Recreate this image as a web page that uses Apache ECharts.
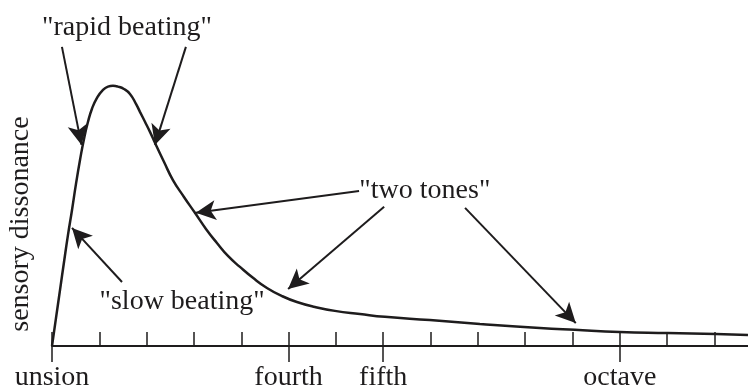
<!DOCTYPE html>
<html>
<head>
<meta charset="utf-8">
<script src="https://cdn.jsdelivr.net/npm/echarts@6/dist/echarts.min.js"></script>
<style>
  html, body { margin: 0; padding: 0; background: #fff; }
  #main { width: 748px; height: 392px; }
</style>
</head>
<body>
<div id="main"></div>
<script>
// interval in semitones above the lower tone
var semitones = [0, 0.085, 0.169, 0.254, 0.338, 0.423, 0.507, 0.592, 0.676, 0.761, 0.845, 0.951,
  1.078, 1.183, 1.289, 1.395, 1.521, 1.648, 1.775, 1.859, 1.965, 2.071, 2.176, 2.366, 2.556, 2.789,
  3.021, 3.254, 3.486, 3.719, 3.972, 4.247, 4.543, 4.860, 5.176, 5.557, 5.979, 6.508, 7.036,
  7.986, 9.043, 10.31, 11.05, 12.0, 13.01, 14.03, 14.71];
// sensory dissonance (peak = 1)
var dissonance = [0, 0.108, 0.215, 0.323, 0.427, 0.523, 0.623, 0.715, 0.796, 0.862, 0.912, 0.954,
  0.985, 0.997, 1.0, 0.997, 0.988, 0.969, 0.931, 0.9, 0.862, 0.823, 0.781, 0.708, 0.638, 0.573,
  0.512, 0.45, 0.396, 0.346, 0.304, 0.262, 0.223, 0.192, 0.169, 0.150, 0.135, 0.123, 0.112,
  0.1, 0.085, 0.069, 0.062, 0.054, 0.05, 0.046, 0.042];

var minorTicks = [0, 1, 2, 3, 4, 5, 6, 7, 8, 9, 10, 11, 12, 13, 14];
var namedTicks = [0, 5, 7, 12];
var tickLabels = ['unsion', 'fourth', 'fifth', 'octave'];

// annotation texts and arrows (data coordinates: [semitones, dissonance])
var notes = [
  { text: '"rapid beating"', at: [1.585, 1.222] },
  { text: '"slow beating"', at: [2.75, 0.17] },
  { text: '"two tones"', at: [7.88, 0.598] }
];
var arrows = [
  [[0.21, 1.15], [0.623, 0.773]],
  [[2.83, 1.15], [2.176, 0.773]],
  [[1.48, 0.246], [0.423, 0.454]],
  [[6.49, 0.596], [3.04, 0.512]],
  [[7.02, 0.535], [4.99, 0.219]],
  [[8.73, 0.531], [11.07, 0.088]]
];

var ink = '#1e1c1d';
var serif = '"Liberation Serif", "DejaVu Serif", serif';

var curve = [];
for (var i = 0; i < semitones.length; i++) {
  curve.push([semitones[i], dissonance[i]]);
}

var myChart = echarts.init(document.getElementById('main'));
var option = {
  animation: false,
  grid: { left: 52, right: 0, top: 0, bottom: 46 },
  xAxis: [
    {
      type: 'value', min: 0, max: 14.71, interval: 1,
      axisLine: { show: true, lineStyle: { color: ink, width: 2 } },
      axisTick: { show: true, inside: true, length: 14, customValues: minorTicks,
        lineStyle: { color: ink, width: 1.5 } },
      axisLabel: { show: false },
      splitLine: { show: false }
    },
    {
      type: 'value', min: 0, max: 14.71, position: 'bottom', offset: 0,
      axisLine: { show: false },
      axisTick: { show: true, inside: false, length: 16, customValues: namedTicks,
        lineStyle: { color: ink, width: 1.5 } },
      axisLabel: {
        show: true, customValues: namedTicks, margin: 18,
        color: ink, fontSize: 28, fontFamily: serif,
        formatter: function (v) {
          var k = namedTicks.indexOf(Math.round(v));
          return k >= 0 ? tickLabels[k] : '';
        }
      },
      splitLine: { show: false }
    }
  ],
  yAxis: { type: 'value', min: 0, max: 1.33, show: false },
  graphic: [
    {
      type: 'text', x: 21, y: 224, rotation: Math.PI / 2,
      style: { text: 'sensory dissonance', fill: ink, font: '28px ' + serif,
        align: 'center', verticalAlign: 'middle' }
    }
  ],
  series: [
    {
      type: 'line',
      xAxisIndex: 0,
      data: curve,
      smooth: 0.5,
      showSymbol: false,
      silent: true,
      lineStyle: { color: ink, width: 2.5 },
      markLine: {
        silent: true,
        symbol: ['none', 'arrow'],
        symbolSize: [15, 20],
        label: { show: false },
        lineStyle: { color: ink, width: 2, type: 'solid' },
        data: arrows.map(function (a) {
          return [{ coord: a[0] }, { coord: a[1] }];
        })
      },
      markPoint: {
        silent: true,
        symbol: 'circle',
        symbolSize: 1,
        itemStyle: { color: 'rgba(0,0,0,0)' },
        label: { show: true, position: 'inside', formatter: '{b}',
          color: ink, fontSize: 28, fontFamily: serif },
        data: notes.map(function (n) {
          return { name: n.text, coord: n.at };
        })
      }
    }
  ]
};
myChart.setOption(option);
</script>
</body>
</html>
